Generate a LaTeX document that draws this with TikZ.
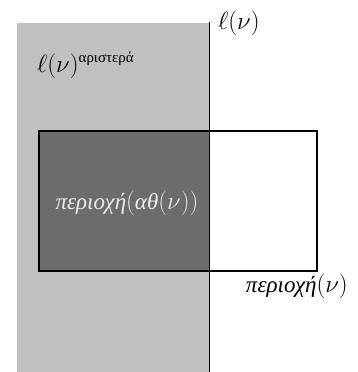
\documentclass[tikz,border=0pt]{standalone}
\usepackage{fontspec}
\setmainfont{Liberation Serif}
\definecolor{lightg}{RGB}{192,192,192}
\definecolor{darkg}{RGB}{108,108,108}
\begin{document}
\begin{tikzpicture}[x=1pt,y=-1pt,
  lbl/.style={inner sep=0pt, font=\fontsize{23}{26}\selectfont},
  frame/.style={draw=black, line width=2pt}]
\useasboundingbox (0,0) rectangle (358,372);
\fill[lightg] (17,23) rectangle (209,372);
\fill[darkg] (38,130) rectangle (209,270);
\draw[line width=1pt] (209,22) -- (209,372);
\node[frame, minimum width=278pt, minimum height=140pt, inner sep=0pt, anchor=north west] (reg) at (38,130) {};
\node[lbl, anchor=base west] (l) at (218,29) {$\ell(\nu)$};
\node[lbl, anchor=base west] (ll) at (37,72) {$\ell(\nu)^{\mbox{\fontsize{15}{17}\selectfont αριστερά}}$};
\node[lbl, text=white!92!black] (ath) at (127,203) {\textit{περιοχή}$($\textit{αθ}$(\nu))$};
\node[lbl, anchor=base east] (rv) at (348,292) {\textit{περιοχή}$(\nu)$};
\end{tikzpicture}
\end{document}
